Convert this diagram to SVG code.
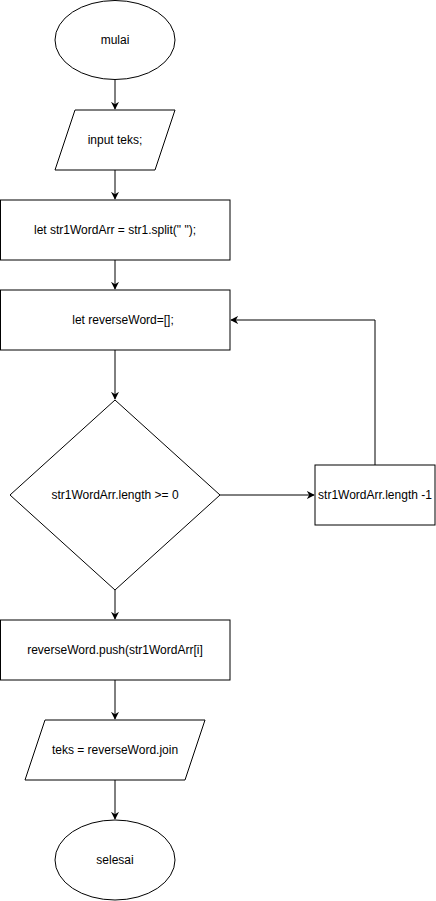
<svg xmlns="http://www.w3.org/2000/svg" width="436" height="901" viewBox="0 0 436 901">
<style>
.s{fill:#fff;stroke:#000;stroke-width:1}
.t{font-family:"Liberation Sans",Arial,Helvetica,sans-serif;font-size:12px;fill:#000;text-anchor:middle}
.c{fill:none;stroke:#000;stroke-width:1}
</style>
<defs>
<marker id="a" viewBox="0 0 10 10" refX="9" refY="5" markerWidth="8" markerHeight="8" markerUnits="userSpaceOnUse" orient="auto">
<path d="M0,0 L10,5 L0,10 L3,5 Z" fill="#000"/>
</marker>
</defs>
<rect width="436" height="901" fill="#fff"/>
<g id="connectors">
<path class="c" d="M115,80 V109" marker-end="url(#a)"/>
<path class="c" d="M115,170 V199" marker-end="url(#a)"/>
<path class="c" d="M115,260 V289" marker-end="url(#a)"/>
<path class="c" d="M115,350 V399" marker-end="url(#a)"/>
<path class="c" d="M220,495 H314" marker-end="url(#a)"/>
<path class="c" d="M375,465 V320 H231" marker-end="url(#a)"/>
<path class="c" d="M115,590 V619" marker-end="url(#a)"/>
<path class="c" d="M115,680 V719" marker-end="url(#a)"/>
<path class="c" d="M115,780 V819" marker-end="url(#a)"/>
</g>
<g id="mulai">
<ellipse class="s" cx="115" cy="40" rx="60" ry="39.5"/>
<text class="t" x="115" y="44">mulai</text>
</g>
<g id="input">
<polygon class="s" points="75,110 175,110 155,170 55,170"/>
<text class="t" x="115" y="144">input teks;</text>
</g>
<g id="split">
<rect class="s" x="0.5" y="200" width="229.5" height="60"/>
<text class="t" x="115" y="234">let str1WordArr = str1.split(" ");</text>
</g>
<g id="reverseWord">
<rect class="s" x="0.5" y="290" width="229.5" height="60"/>
<text class="t" x="123" y="324">let reverseWord=[];</text>
</g>
<g id="cond">
<polygon class="s" points="115,400 220,495 115,590 10,495"/>
<text class="t" x="115" y="499">str1WordArr.length &gt;= 0</text>
</g>
<g id="decrement">
<rect class="s" x="315" y="465" width="120" height="60"/>
<text class="t" x="375" y="499">str1WordArr.length -1</text>
</g>
<g id="push">
<rect class="s" x="0.5" y="620" width="229.5" height="60"/>
<text class="t" x="115" y="654">reverseWord.push(str1WordArr[i]</text>
</g>
<g id="join">
<polygon class="s" points="45,720 205,720 185,780 25,780"/>
<text class="t" x="115" y="754">teks = reverseWord.join</text>
</g>
<g id="selesai">
<ellipse class="s" cx="115" cy="860" rx="60" ry="40"/>
<text class="t" x="115" y="864">selesai</text>
</g>
</svg>
